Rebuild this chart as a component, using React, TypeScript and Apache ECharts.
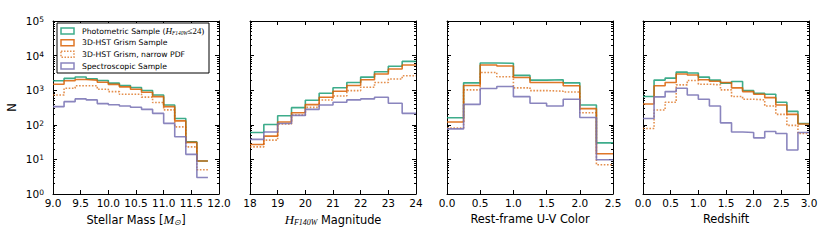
import React, { useEffect, useRef } from 'react';
import * as echarts from 'echarts';

// ---------- data ----------
const massEdges = [9.0, 9.2, 9.4, 9.6, 9.8, 10.0, 10.2, 10.4, 10.6, 10.8, 11.0, 11.2, 11.4, 11.6, 11.8];
const massPhot = [1870, 2190, 2400, 2140, 1910, 1600, 1370, 1200, 980, 730, 375, 152, 32, 9];
const massGrism = [1490, 1870, 2040, 1950, 1700, 1470, 1250, 1070, 870, 650, 335, 130, 31, 9];
const massNarrow = [730, 1140, 1340, 1340, 1070, 910, 760, 760, 630, 440, 270, 87, 23, 5];
const massSpec = [335, 467, 560, 525, 410, 380, 350, 320, 280, 214, 110, 45, 14, 3];

const magEdges = [18, 18.5, 19, 19.5, 20, 20.5, 21, 21.5, 22, 22.5, 23, 23.5, 24];
const magPhot = [60, 102, 183, 313, 510, 820, 1180, 1670, 2390, 3400, 4900, 6800];
const magGrism = [27, 47, 120, 223, 383, 625, 935, 1370, 2000, 2930, 4100, 5350];
const magNarrow = [23, 36, 105, 190, 318, 520, 683, 975, 1220, 1670, 2100, 2620];
const magSpec = [38, 62, 109, 187, 280, 374, 448, 525, 560, 625, 418, 214];

const uvEdges = [0, 0.25, 0.5, 0.75, 1.0, 1.25, 1.5, 1.75, 2.0, 2.25, 2.5];
const uvPhot = [160, 1630, 6100, 6000, 2680, 1960, 2000, 1630, 375, 30];
const uvGrism = [120, 1370, 5350, 5000, 2340, 1670, 1670, 1340, 293, 14.6];
const uvNarrow = [81, 1020, 3260, 2440, 1170, 975, 935, 890, 223, 7];
const uvSpec = [76, 390, 1120, 1280, 650, 418, 350, 550, 163, 9.8];

const zEdges = [0, 0.2, 0.4, 0.6, 0.8, 1.0, 1.2, 1.4, 1.6, 1.8, 2.0, 2.2, 2.4, 2.6, 2.8, 3.0];
const zPhot = [660, 1960, 2240, 3330, 3130, 2390, 1960, 1600, 1790, 980, 820, 766, 448, 245, 109];
const zGrism = [400, 1340, 1670, 2930, 2750, 2000, 1820, 1670, 1170, 910, 766, 610, 375, 200, 105];
const zNarrow = [78, 267, 448, 1430, 1900, 1490, 1430, 1020, 660, 550, 525, 350, 200, 96, 56];
const zSpec = [152, 640, 910, 1140, 730, 550, 350, 114, 62, 60, 42, 64, 56, 18.7, 60];

const xTicksMass = { min: 9, max: 12, interval: 0.5, dec: 1 };
const xTicksMag = { min: 18, max: 24, interval: 1, dec: 0 };
const xTicksUV = { min: 0, max: 2.5, interval: 0.5, dec: 1 };
const xTicksZ = { min: 0, max: 3, interval: 0.5, dec: 1 };

const yMin = 1;
const yMax = 100000;

// ---------- styles ----------
const SANS = 'DejaVu Sans';
const SERIF = 'Liberation Serif';
const GREEN = '#1b9e77';
const ORANGE = '#d95f02';
const PURPLE = '#7570b3';

const seriesStyles = [
  { color: GREEN, type: 'solid', opacity: 0.85 },
  { color: ORANGE, type: 'solid', opacity: 0.85 },
  { color: ORANGE, type: 'dotted', opacity: 0.7 },
  { color: PURPLE, type: 'solid', opacity: 0.85 },
];

const mathRich = (size: number) => ({
  t: { fontFamily: SANS, fontSize: size, color: '#000' },
  m: { fontFamily: SERIF, fontStyle: 'italic', fontSize: size + 1.5, color: '#000' },
  s: { fontFamily: SERIF, fontStyle: 'italic', fontSize: size * 0.7, color: '#000', verticalAlign: 'bottom' },
  u: { fontFamily: SERIF, fontSize: size + 1, color: '#000' },
});

const panels = [
  { edges: massEdges, vals: [massPhot, massGrism, massNarrow, massSpec], ticks: xTicksMass, name: '{t|Stellar Mass [}{m|M}{s|⊙}{t|]}' },
  { edges: magEdges, vals: [magPhot, magGrism, magNarrow, magSpec], ticks: xTicksMag, name: '{m|H}{s|F140W}{t| Magnitude}' },
  { edges: uvEdges, vals: [uvPhot, uvGrism, uvNarrow, uvSpec], ticks: xTicksUV, name: '{t|Rest-frame U-V Color}' },
  { edges: zEdges, vals: [zPhot, zGrism, zNarrow, zSpec], ticks: xTicksZ, name: '{t|Redshift}' },
];

const GRID_LEFTS = [53, 250, 447, 643];
const GRID_TOP = 21;
const GRID_W = 166;
const GRID_H = 173;

const legendItems = [
  { text: '{t|Photometric Sample (}{m|H}{s|F140W}{u|≤24)}', style: 0 },
  { text: '{t|3D-HST Grism Sample}', style: 1 },
  { text: '{t|3D-HST Grism, narrow PDF}', style: 2 },
  { text: '{t|Spectroscopic Sample}', style: 3 },
];

function stepData(edges: number[], vals: number[]) {
  const d = vals.map((v, i) => [edges[i], v]);
  d.push([edges[vals.length], vals[vals.length - 1]]);
  return d;
}

function buildOption() {
  const black = { color: '#000', width: 1 };
  const xAxis: any[] = [];
  const yAxis: any[] = [];
  const series: any[] = [];

  panels.forEach((p, i) => {
    const t = p.ticks;
    xAxis.push({
      type: 'value', gridIndex: i, position: 'bottom',
      min: t.min, max: t.max, interval: t.interval,
      axisLine: { show: true, onZero: false, lineStyle: black },
      axisTick: { show: true, inside: true, length: 4, lineStyle: black },
      splitLine: { show: false },
      axisLabel: {
        show: true, color: '#000', fontFamily: SANS, fontSize: 10.5, margin: 3,
        formatter: (v: number) => v.toFixed(t.dec),
      },
      name: p.name, nameLocation: 'middle', nameGap: 19,
      nameTextStyle: { color: '#000', fontFamily: SANS, fontSize: 11.4, rich: mathRich(11.4) },
    });
    xAxis.push({
      type: 'value', gridIndex: i, position: 'top',
      min: t.min, max: t.max, interval: t.interval,
      axisLine: { show: true, onZero: false, lineStyle: black },
      axisTick: { show: true, inside: true, length: 4, lineStyle: black },
      splitLine: { show: false },
      axisLabel: { show: false },
    });
    const minorTick = { show: true, splitNumber: 9, length: 2, lineStyle: black };
    yAxis.push({
      type: 'log', logBase: 10, gridIndex: i, position: 'left',
      min: yMin, max: yMax,
      axisLine: { show: true, onZero: false, lineStyle: black },
      axisTick: { show: true, inside: true, length: 4, lineStyle: black },
      minorTick,
      splitLine: { show: false },
      minorSplitLine: { show: false },
      axisLabel: {
        show: i === 0, color: '#000', fontFamily: SANS, fontSize: 10.5, margin: 9,
        formatter: (v: number) => `{b|10}{p|${Math.round(Math.log10(v))}}`,
        rich: {
          b: { fontFamily: SANS, fontSize: 10.5, color: '#000' },
          p: { fontFamily: SANS, fontSize: 7.5, color: '#000', verticalAlign: 'top' },
        },
      },
      name: i === 0 ? 'N' : '', nameLocation: 'middle', nameGap: 36,
      nameTextStyle: { color: '#000', fontFamily: SANS, fontSize: 11.4 },
    });
    yAxis.push({
      type: 'log', logBase: 10, gridIndex: i, position: 'right',
      min: yMin, max: yMax,
      axisLine: { show: true, onZero: false, lineStyle: black },
      axisTick: { show: true, inside: true, length: 4, lineStyle: black },
      minorTick,
      splitLine: { show: false },
      minorSplitLine: { show: false },
      axisLabel: { show: false },
    });

    p.vals.forEach((vals, k) => {
      const st = seriesStyles[k];
      series.push({
        type: 'line', xAxisIndex: 2 * i, yAxisIndex: 2 * i, step: 'end',
        symbol: 'none', data: stepData(p.edges, vals), silent: true, z: 2 + k,
        lineStyle: { color: st.color, width: 1.6, type: st.type, opacity: st.opacity },
      });
    });
  });

  const graphic: any[] = [
    {
      type: 'rect', z: 100,
      shape: { x: 57, y: 23, width: 152, height: 50 },
      style: { fill: '#fff', stroke: '#000', lineWidth: 1 },
    },
  ];
  const rowY = [31, 42.7, 54.3, 66];
  legendItems.forEach((it, r) => {
    const st = seriesStyles[it.style];
    graphic.push({
      type: 'rect', z: 101,
      shape: { x: 61, y: rowY[r] - 3, width: 13, height: 6 },
      style: {
        fill: 'none', stroke: st.color, lineWidth: 1.5, opacity: st.opacity,
        lineDash: st.type === 'dotted' ? [1.5, 1.5] : null,
      },
    });
    graphic.push({
      type: 'text', z: 101, x: 82, y: rowY[r],
      style: {
        text: it.text, fill: '#000', fontFamily: SANS, fontSize: 7.7,
        verticalAlign: 'middle', align: 'left', rich: mathRich(7.7),
      },
    });
  });

  return {
    animation: false,
    backgroundColor: '#fff',
    grid: panels.map((_, i) => ({ left: GRID_LEFTS[i], top: GRID_TOP, width: GRID_W, height: GRID_H })),
    xAxis, yAxis, series, graphic,
  };
}

export default function App() {
  const ref = useRef<HTMLDivElement>(null);
  useEffect(() => {
    if (!ref.current) return;
    const chart = echarts.init(ref.current, undefined, { renderer: 'svg' });
    chart.setOption(buildOption() as any);
    return () => chart.dispose();
  }, []);
  return (
    <div
      ref={ref}
      style={{ position: 'fixed', left: 0, top: 0, width: 830, height: 242, background: '#fff' }}
    />
  );
}
